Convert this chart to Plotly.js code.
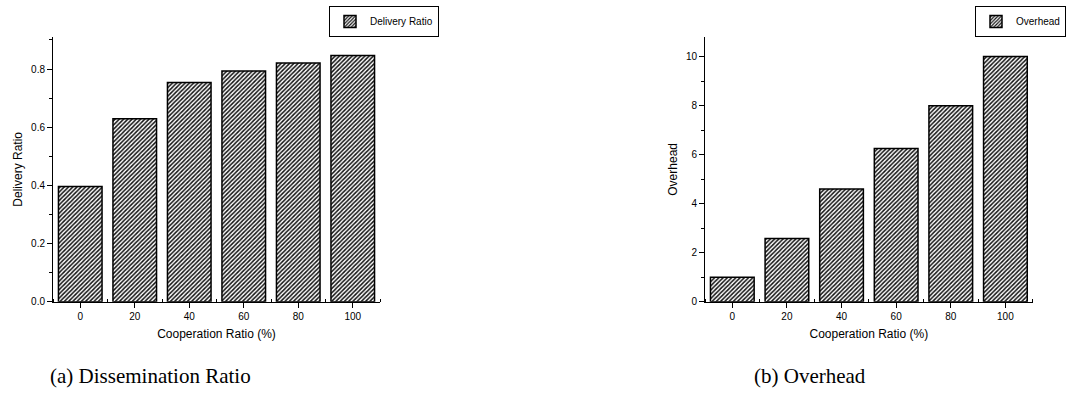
<!DOCTYPE html>
<html>
<head>
<meta charset="utf-8">
<script src="https://cdn.plot.ly/plotly-3.0.1.min.js"></script>
<style>html,body{margin:0;padding:0;background:#fff;}#chart{width:1067px;height:407px;}</style>
</head>
<body>
<div id="chart"></div>
<script>
const cooperation = [0, 20, 40, 60, 80, 100];
const deliveryRatio = [0.396, 0.629, 0.754, 0.793, 0.821, 0.846];
const overhead = [1.0, 2.58, 4.6, 6.25, 8.0, 10.0];
const yTicksLeft = [0, 0.2, 0.4, 0.6, 0.8];
const yTicksRight = [0, 2, 4, 6, 8, 10];

const pattern = {shape: '/', fgcolor: '#111', bgcolor: '#fff', size: 3, solidity: 0.5};
const barMarker = {color: '#fff', pattern: pattern, line: {color: '#000', width: 1.5}};

const traces = [
  {type: 'bar', x: cooperation, y: deliveryRatio, name: 'Delivery Ratio', width: 16,
   marker: barMarker, xaxis: 'x', yaxis: 'y', legend: 'legend', hoverinfo: 'x+y'},
  {type: 'bar', x: cooperation, y: overhead, name: 'Overhead', width: 16,
   marker: barMarker, xaxis: 'x2', yaxis: 'y2', legend: 'legend2', hoverinfo: 'x+y'}
];

const tickFont = {family: 'Liberation Sans, Arial, sans-serif', size: 10, color: '#000'};
const titleFont = {family: 'Liberation Sans, Arial, sans-serif', size: 12, color: '#000'};

function xAxis(domain, anchor) {
  return {
    domain: domain, anchor: anchor, range: [-10, 110],
    tickmode: 'array', tickvals: cooperation, ticktext: cooperation.map(String),
    ticks: 'outside', ticklen: 5, tickwidth: 1, tickcolor: '#000',
    minor: {tickmode: 'array', tickvals: [-10, 10, 30, 50, 70, 90, 110], ticks: 'inside', ticklen: 3, tickcolor: '#000'},
    showline: true, linecolor: '#000', linewidth: 1, showgrid: false, zeroline: false,
    tickfont: tickFont, fixedrange: true,
    title: {text: 'Cooperation Ratio (%)', font: titleFont, standoff: 8}
  };
}
function yAxis(domain, anchor, range, ticks, minorD, fmt, title) {
  return {
    domain: domain, anchor: anchor, range: range,
    tickmode: 'array', tickvals: ticks, ticktext: ticks.map(v => fmt(v)),
    ticks: 'outside', ticklen: 5, tickwidth: 1, tickcolor: '#000',
    minor: {dtick: minorD, ticks: 'outside', ticklen: 3, tickcolor: '#000'},
    showline: true, linecolor: '#000', linewidth: 1, showgrid: false, zeroline: false,
    tickfont: tickFont, fixedrange: true,
    title: {text: title, font: titleFont, standoff: 5}
  };
}

const yDom = [(407 - 301.7) / 407, (407 - 37) / 407];
const legendFont = {family: 'Liberation Sans, Arial, sans-serif', size: 10, color: '#000'};

const layout = {
  width: 1067, height: 407,
  margin: {l: 0, r: 0, t: 0, b: 0},
  paper_bgcolor: '#fff', plot_bgcolor: '#fff',
  showlegend: true,
  bargap: 0,
  xaxis: xAxis([53 / 1067, 380 / 1067], 'y'),
  yaxis: yAxis(yDom, 'x', [0, 0.91], yTicksLeft, 0.1, v => v.toFixed(1), 'Delivery Ratio'),
  xaxis2: xAxis([705 / 1067, 1032.7 / 1067], 'y2'),
  yaxis2: yAxis(yDom, 'x2', [0, 10.8], yTicksRight, 1, v => String(v), 'Overhead'),
  legend: {x: 439 / 1067, xanchor: 'right', y: 1 - 6 / 407, yanchor: 'top',
           bordercolor: '#000', borderwidth: 1, bgcolor: '#fff',
           font: legendFont, itemwidth: 30, tracegroupgap: 0},
  legend2: {x: 1066 / 1067, xanchor: 'right', y: 1 - 6 / 407, yanchor: 'top',
           bordercolor: '#000', borderwidth: 1, bgcolor: '#fff',
           font: legendFont, itemwidth: 30, tracegroupgap: 0},
  annotations: [
    {text: '(a) Dissemination Ratio', xref: 'paper', yref: 'paper', x: 150 / 1067, y: 1 - 376 / 407,
     xanchor: 'center', yanchor: 'middle', showarrow: false,
     font: {family: 'Liberation Serif, DejaVu Serif, serif', size: 21, color: '#000'}},
    {text: '(b) Overhead', xref: 'paper', yref: 'paper', x: 810 / 1067, y: 1 - 376 / 407,
     xanchor: 'center', yanchor: 'middle', showarrow: false,
     font: {family: 'Liberation Serif, DejaVu Serif, serif', size: 21, color: '#000'}}
  ]
};

Plotly.newPlot('chart', traces, layout, {displayModeBar: false, staticPlot: true});
</script>
</body>
</html>
